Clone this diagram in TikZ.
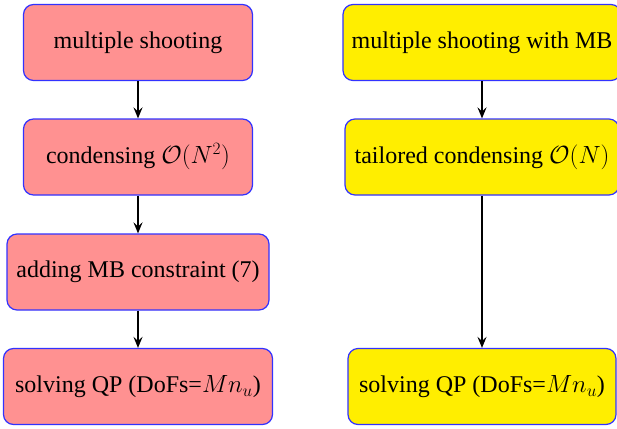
\documentclass[tikz,border=0pt]{standalone}
\usepackage{fontspec}
\setmainfont{Liberation Serif}
\usetikzlibrary{arrows.meta}
\definecolor{boxpink}{RGB}{255,145,145}
\definecolor{boxyellow}{RGB}{255,238,0}
\definecolor{boxedge}{RGB}{50,50,255}
\tikzset{
  flowbox/.style={draw=boxedge, line width=1.2pt, rounded corners=10pt,
    inner sep=0pt, minimum height=76pt, font=\fontsize{24}{28}\selectfont},
  pinkbox/.style={flowbox, fill=boxpink},
  yellowbox/.style={flowbox, fill=boxyellow},
  flowarrow/.style={-{Stealth[length=11pt, width=9pt, inset=4pt]}, line width=2pt, black}
}
\begin{document}
\begin{tikzpicture}[x=1pt, y=-1pt]
\clip (0,0) rectangle (617,428);
\useasboundingbox (0,0) rectangle (617,428);
% left chain: standard multiple shooting
\node[pinkbox, minimum width=229pt] (l1) at (138,42.5) {multiple shooting};
\node[pinkbox, minimum width=229pt] (l2) at (138,157) {condensing $\mathcal{O}(N^2)$};
\node[pinkbox, minimum width=262pt] (l3) at (138,272) {adding MB constraint (7)};
\node[pinkbox, minimum width=269pt] (l4) at (138,386.5) {solving QP (DoFs=$Mn_u$)};
% right chain: multiple shooting with MB
\node[yellowbox, minimum width=278pt] (r1) at (482,42.5) {multiple shooting with MB};
\node[yellowbox, minimum width=274pt] (r2) at (482,157) {tailored condensing $\mathcal{O}(N)$};
\node[yellowbox, minimum width=268pt] (r4) at (482,386.5) {solving QP (DoFs=$Mn_u$)};
% connectors
\draw[flowarrow] (l1) -- (l2);
\draw[flowarrow] (l2) -- (l3);
\draw[flowarrow] (l3) -- (l4);
\draw[flowarrow] (r1) -- (r2);
\draw[flowarrow] (r2) -- (r4);
\end{tikzpicture}
\end{document}
